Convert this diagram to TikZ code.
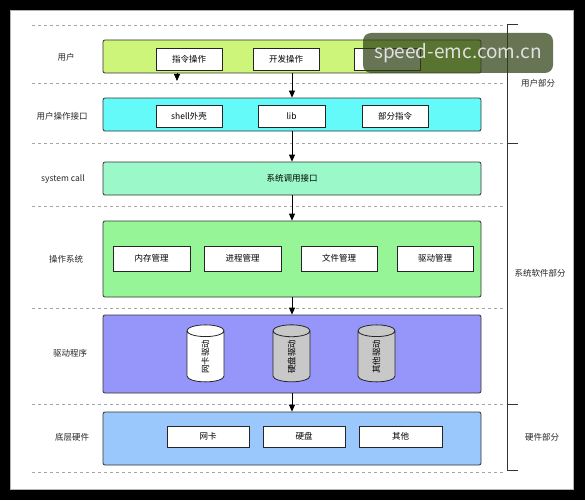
\documentclass[tikz,border=0pt]{standalone}
\usepackage{fontspec}
\setmainfont{Noto Sans CJK SC}
\usetikzlibrary{shapes.geometric,arrows.meta}

\definecolor{userlime}{RGB}{204,245,122}
\definecolor{apicyan}{RGB}{100,250,250}
\definecolor{callmint}{RGB}{155,248,200}
\definecolor{osgreen}{RGB}{150,245,150}
\definecolor{drvblue}{RGB}{150,150,250}
\definecolor{hwblue}{RGB}{155,200,252}
\definecolor{drumgray}{RGB}{200,200,200}
\definecolor{markgreen}{RGB}{45,65,20}

\tikzset{
  layer/.style={draw=black!80, line width=0.8pt, rounded corners=2pt,
    minimum width=378pt, inner sep=0pt},
  item/.style={draw=black!85, fill=white, line width=0.8pt, inner sep=0pt,
    minimum height=22pt, font=\fontsize{8.5}{9}\selectfont},
  drum/.style={cylinder, draw=black!85, line width=0.8pt, rotate=90,
    minimum width=37pt, minimum height=57pt, aspect=1.5, inner sep=0pt,
    font=\fontsize{8.5}{9}\selectfont},
  rowlabel/.style={font=\fontsize{8.5}{9}\selectfont, text=black!85},
  sep/.style={dashed, gray!70, line width=0.5pt},
  flow/.style={-{Triangle[length=7pt,width=6pt]}, line width=0.8pt}
}

\begin{document}
\begin{tikzpicture}[x=1pt,y=-1pt]
  \useasboundingbox (0,0) rectangle (585,500);
  \fill[black] (0,0) rectangle (585,500);
  \draw[gray!60, fill=white] (10,10) rectangle (573,489);

  % dashed separators
  \foreach \y in {25,83,143,206,308,404,472}{
    \draw[sep] (32,\y) -- (505,\y);
  }

  % bracket on the right
  \draw[line width=0.8pt, black!80] (518,24) -- (507,24) -- (507,470) -- (518,470);
  \draw[line width=0.8pt, black!80] (507,143) -- (518,143);
  \draw[line width=0.8pt, black!80] (507,404) -- (518,404);
  \node[rowlabel] (userpart) at (538,83) {用户部分};
  \node[rowlabel] (syspart) at (540,273) {系统软件部分};
  \node[rowlabel] (hwpart) at (542,437) {硬件部分};

  % layers
  \node[layer, fill=userlime, minimum height=33pt] (user) at (292,56.5) {};
  \node[layer, fill=apicyan, minimum height=33pt] (api) at (292,114.5) {};
  \node[layer, fill=callmint, minimum height=33pt, font=\fontsize{8.5}{9}\selectfont]
    (call) at (292,178.5) {系统调用接口};
  \node[layer, fill=osgreen, minimum height=76pt] (os) at (292,259) {};
  \node[layer, fill=drvblue, minimum height=78pt] (drv) at (292,354) {};
  \node[layer, fill=hwblue, minimum height=53pt] (hw) at (292,438.5) {};

  % row labels
  \node[rowlabel] (lbluser) at (66,57) {用户};
  \node[rowlabel] (lblapi) at (62,116) {用户操作接口};
  \node[rowlabel] (lblcall) at (63,179) {system call};
  \node[rowlabel] (lblos) at (66,259) {操作系统};
  \node[rowlabel] (lbldrv) at (70,353) {驱动程序};
  \node[rowlabel] (lblhw) at (72,437) {底层硬件};

  % items
  \node[item, minimum width=66pt] (cmd) at (189,59) {指令操作};
  \node[item, minimum width=66pt] (dev) at (286,59) {开发操作};
  \node[item, minimum width=66pt] (gui) at (387,59) {};
  \node[item, minimum width=66pt] (shell) at (189,116) {shell外壳};
  \node[item, minimum width=67pt] (lib) at (291.5,116) {lib};
  \node[item, minimum width=66pt] (part) at (395,116) {部分指令};
  \node[item, minimum width=77pt, minimum height=25pt] (mem) at (151.5,258.5) {内存管理};
  \node[item, minimum width=77pt, minimum height=25pt] (proc) at (242.5,258.5) {进程管理};
  \node[item, minimum width=76pt, minimum height=25pt] (file) at (339,258.5) {文件管理};
  \node[item, minimum width=76pt, minimum height=25pt] (dman) at (435,258.5) {驱动管理};
  \node[drum, fill=white] (netdrv) at (205.5,356.5) {网卡驱动};
  \node[drum, fill=drumgray] (diskdrv) at (291.5,356.5) {硬盘驱动};
  \node[drum, fill=drumgray] (otherdrv) at (376.5,356.5) {其他驱动};
  \node[item, minimum width=82pt, minimum height=21pt] (nic) at (208,436.5) {网卡};
  \node[item, minimum width=82pt, minimum height=21pt] (disk) at (304,436.5) {硬盘};
  \node[item, minimum width=83pt, minimum height=21pt] (other) at (400.5,436.5) {其他};

  % arrows
  \draw[flow] (user) -- (api);
  \draw[flow] (api) -- (call);
  \draw[flow] (call) -- (os);
  \draw[flow] (os) -- (drv);
  \draw[flow] (drv) -- (hw);
  \coordinate (cmdtip) at (177,81);
  \draw[flow] (user.south -| cmdtip) -- (cmdtip);

  % watermark
  \node[fill=markgreen, fill opacity=0.72, text opacity=1, rounded corners=8pt,
    minimum width=190pt, minimum height=40pt, inner sep=0pt, text=white!88!black,
    font=\fontsize{19}{19}\selectfont] (mark) at (458,53) {speed-emc.com.cn};
\end{tikzpicture}
\end{document}
